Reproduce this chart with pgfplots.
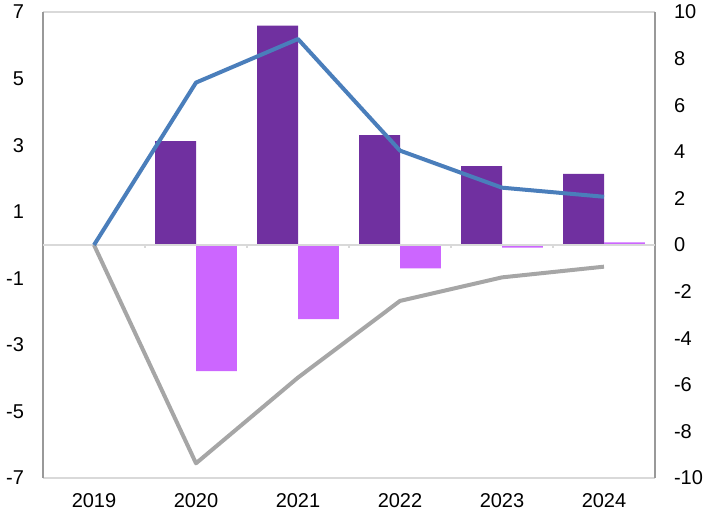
\documentclass[border=0pt]{standalone}
\usepackage{fontspec}
\setmainfont{Liberation Sans}
\usepackage{pgfplots}
\pgfplotsset{compat=1.18}
\definecolor{dpurple}{HTML}{7030A0}
\definecolor{lpink}{HTML}{CC66FF}
\definecolor{lblue}{HTML}{4A7EBB}
\definecolor{lgray}{HTML}{A6A6A6}
\begin{document}
\begin{tikzpicture}
\path[use as bounding box] (-21.5pt,-17pt) rectangle (331pt,239pt);
\pgfplotsset{every axis/.append style={scale only axis, width=306pt, height=233pt,
  xmin=-0.5, xmax=5.5, /pgf/number format/assume math mode=true,
  major tick length=0pt, tick label style={font=\fontsize{10}{12}\selectfont}}}
\begin{axis}[
  ymin=-7, ymax=7, ytick={-7,-5,...,7},
  xtick={0,1,2,3,4,5}, xticklabels={2019,2020,2021,2022,2023,2024},
  xticklabel style={yshift=-4pt},
  yticklabel style={xshift=-6pt},
  separate axis lines,
  x axis line style={draw=black!15, line width=0.8pt},
  y axis line style={draw=black!40, line width=0.8pt},
]
\addplot[ybar, bar width=0.4, bar shift=-0.2, fill=dpurple, draw=none]
  coordinates {(1,3.12) (2,6.59) (3,3.30) (4,2.37) (5,2.14)};
\addplot[ybar, bar width=0.4, bar shift=0.2, fill=lpink, draw=none]
  coordinates {(1,-3.79) (2,-2.23) (3,-0.70) (4,-0.08) (5,0.08)};
\addplot[black!15, line width=0.9pt, mark=none] coordinates {(-0.5,0) (5.5,0)};
\addplot[ycomb, black!15, line width=0.8pt, mark=none]
  coordinates {(0.5,-0.1) (1.5,-0.1) (2.5,-0.1) (3.5,-0.1) (4.5,-0.1)};
\end{axis}
\begin{axis}[
  ymin=-10, ymax=10, ytick={-10,-8,...,10},
  axis x line=none, axis y line*=right,
  y axis line style={draw=none},
  yticklabel style={xshift=6pt},
]
\addplot[lgray, line width=2pt, line join=round, mark=none]
  coordinates {(0,0) (1,-9.37) (2,-5.69) (3,-2.40) (4,-1.39) (5,-0.93)};
\addplot[lblue, line width=2pt, line join=round, mark=none]
  coordinates {(0,0) (1,6.97) (2,8.84) (3,4.05) (4,2.46) (5,2.07)};
\end{axis}
\end{tikzpicture}
\end{document}
